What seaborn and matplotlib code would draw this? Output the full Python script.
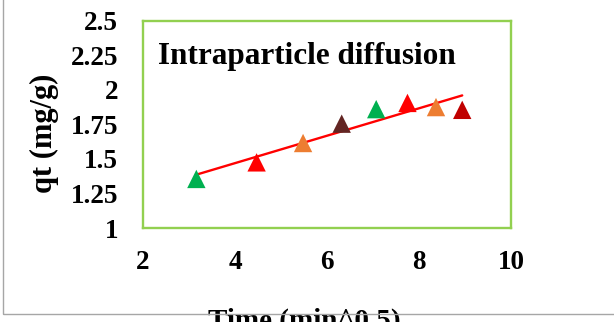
import matplotlib
matplotlib.use('Agg')
import matplotlib.pyplot as plt
import matplotlib.patches as patches
import pandas as pd
import seaborn as sns

# sqrt(t) values and adsorbed amount
time_sqrt = [3.16, 4.47, 5.48, 6.32, 7.07, 7.75, 8.37, 8.94]
qt = [1.355, 1.475, 1.615, 1.755, 1.86, 1.905, 1.875, 1.855]
point_colors = ['#00B050', '#FF0000', '#ED7D31', '#632523',
                '#00B050', '#FF0000', '#ED7D31', '#C00000']
x_ticks = [2, 4, 6, 8, 10]
y_ticks = [1, 1.25, 1.5, 1.75, 2, 2.25, 2.5]
y_tick_labels = ['1', '1.25', '1.5', '1.75', '2', '2.25', '2.5']

sns.set_theme(style='white')
plt.rcParams['font.family'] = ['Liberation Serif', 'DejaVu Serif']
plt.rcParams['font.weight'] = 'bold'
plt.rcParams['text.color'] = 'black'
plt.rcParams['xtick.color'] = 'black'
plt.rcParams['ytick.color'] = 'black'
plt.rcParams['axes.labelcolor'] = 'black'

data = pd.DataFrame({'x': time_sqrt, 'qt': qt, 'pt': [str(i) for i in range(len(qt))]})

fig = plt.figure(figsize=(6.14, 3.22), dpi=100)
ax = fig.add_axes([0.2329, 0.2919, 0.5993, 0.6438])

sns.regplot(data=data, x='x', y='qt', scatter=False, ci=None, ax=ax,
            line_kws=dict(color='#FF0000', linewidth=1.7))
sns.scatterplot(data=data, x='x', y='qt', hue='pt', palette=point_colors,
                marker='^', s=175, edgecolor='none', legend=False, ax=ax, zorder=3)

ax.set_xlim(2, 10)
ax.set_ylim(1, 2.5)
ax.set_xticks(x_ticks)
ax.set_yticks(y_ticks)
ax.set_yticklabels(y_tick_labels)
ax.tick_params(axis='both', length=0, labelsize=19.5)
ax.tick_params(axis='x', pad=16)
ax.tick_params(axis='y', pad=18)
for lab in ax.get_xticklabels() + ax.get_yticklabels():
    lab.set_fontweight('bold')

for sp in ax.spines.values():
    sp.set_visible(True)
    sp.set_color('#92D050')
    sp.set_linewidth(1.7)

ax.set_xlabel('Time (min^0.5)', fontsize=21, fontweight='bold')
ax.set_ylabel('qt (mg/g)', fontsize=22, fontweight='bold')
ax.xaxis.set_label_coords(0.4375, -0.385)
ax.xaxis.label.set_va('top')
ax.yaxis.set_label_coords(-0.269, 0.457)
ax.yaxis.label.set_va('center')

ax.text(0.041, 0.793, 'Intraparticle diffusion', transform=ax.transAxes,
        fontsize=22.5, fontweight='bold', va='baseline', ha='left')

# outer chart border (partly outside the image)
fig.patches.append(patches.Rectangle((3 / 614, 8 / 322), 2, 2, transform=fig.transFigure,
                                     fill=False, edgecolor='#A6A6A6', linewidth=1, zorder=0))

fig.savefig('out.png', dpi=100)
